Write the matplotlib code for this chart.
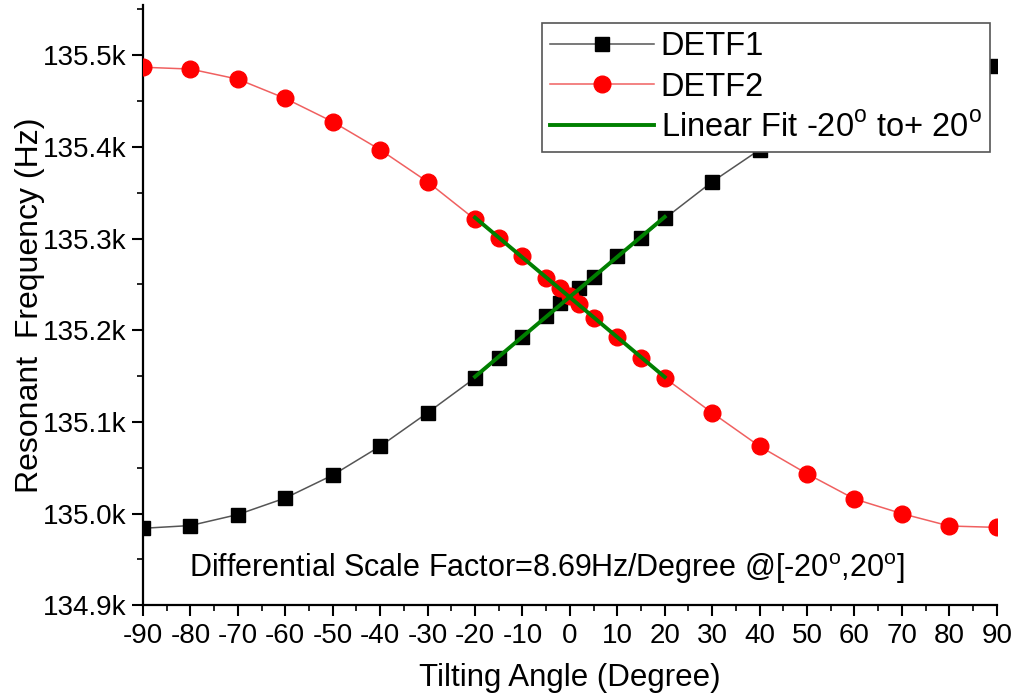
import matplotlib
matplotlib.use("Agg")
import matplotlib.pyplot as plt
from matplotlib.ticker import MultipleLocator, FuncFormatter
import numpy as np

plt.rcParams["font.family"] = ["Liberation Sans", "DejaVu Sans"]
plt.rcParams["mathtext.fontset"] = "custom"
plt.rcParams["mathtext.rm"] = "Liberation Sans"
plt.rcParams["axes.unicode_minus"] = False

# Tilt angle (deg) and resonant frequency (Hz) of the two DETFs
angle = [-90, -80, -70, -60, -50, -40, -30, -20, -15, -10, -5, -2, 0, 2,
         5, 10, 15, 20, 30, 40, 50, 60, 70, 80, 90]
detf1 = [134984, 134987, 134999, 135017, 135042, 135073.5, 135110, 135148,
         135170, 135193, 135215.5, 135230, 135237, 135246, 135258.5, 135281,
         135301, 135322, 135362, 135397, 135429, 135454, 135473, 135484, 135488]
detf2 = [135487, 135485, 135474, 135453, 135427.5, 135397, 135362, 135321,
         135301, 135281, 135257, 135246, 135237, 135229, 135213, 135193,
         135170, 135148, 135110, 135073.5, 135043.5, 135016, 135000, 134986.5,
         134985]
fit_range = (-20, 20)

angle = np.array(angle, dtype=float)
detf1 = np.array(detf1)
detf2 = np.array(detf2)

fig = plt.figure(figsize=(10.14, 7.0), dpi=100)
ax = fig.add_axes([0.141, 0.1353, 0.842, 0.8577])

ax.plot(angle, detf1, color="#555555", lw=1.1, marker="s", ms=10.5,
        mfc="black", mec="black", label="DETF1", zorder=3)
ax.plot(angle, detf2, color="#f06060", lw=1.1, marker="o", ms=12,
        mfc="red", mec="red", label="DETF2", zorder=3)

# linear fits over the central range
sel = (angle >= fit_range[0]) & (angle <= fit_range[1])
xf = np.array(fit_range, dtype=float)
for i, y in enumerate([detf1, detf2]):
    p = np.polyfit(angle[sel], y[sel], 1)
    ax.plot(xf, np.polyval(p, xf), color="#008000", lw=2.8, zorder=4,
            label=r"Linear Fit -20$^\mathregular{o}$ to+ 20$^\mathregular{o}$" if i == 0 else None)

ax.set_xlim(-90, 90)
ax.set_ylim(134900, 135555)
ax.xaxis.set_major_locator(MultipleLocator(10))
ax.xaxis.set_minor_locator(MultipleLocator(5))
ax.yaxis.set_major_locator(MultipleLocator(100))
ax.yaxis.set_minor_locator(MultipleLocator(50))
ax.yaxis.set_major_formatter(FuncFormatter(lambda v, pos: f"{v/1000:.1f}k"))

for s in ["top", "right"]:
    ax.spines[s].set_visible(False)
for s in ["left", "bottom"]:
    ax.spines[s].set_linewidth(1.6)
ax.tick_params(which="major", direction="out", length=8, width=1.5, labelsize=20)
ax.tick_params(which="minor", direction="out", length=4, width=1.2)
ax.tick_params(axis="x", pad=5)
ax.tick_params(axis="y", pad=4)

ax.set_xlabel("Tilting Angle (Degree)", fontsize=22.5, labelpad=10)
ax.set_ylabel("Resonant  Frequency (Hz)", fontsize=23, labelpad=-2)

ax.text(-4.8, 134940, r"Differential Scale Factor=8.69Hz/Degree @[-20$^\mathregular{o}$,20$^\mathregular{o}$]",
        fontsize=22, ha="center", va="center")

leg = ax.legend(loc="upper right", bbox_to_anchor=(0.992, 0.97), fontsize=23.5,
                handlelength=3.2, fancybox=False, framealpha=1,
                edgecolor="#555555", borderpad=0.25, labelspacing=0.3,
                handletextpad=0.2, borderaxespad=0)
leg.get_frame().set_linewidth(1.2)

fig.savefig("out.png", dpi=100)
